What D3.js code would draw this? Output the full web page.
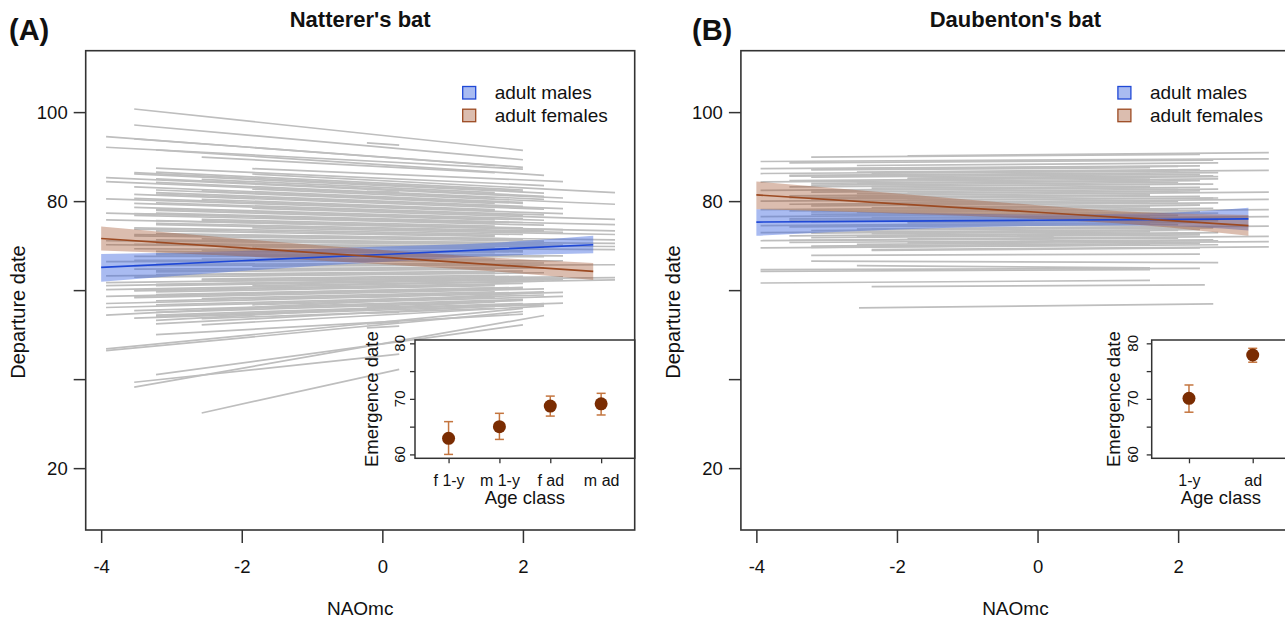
<!DOCTYPE html>
<html>
<head>
<meta charset="utf-8">
<script src="https://cdn.jsdelivr.net/npm/d3@7"></script>
<style>
  body { margin: 0; background: #fff; }
  text { font-family: "Liberation Sans", Arial, Helvetica, sans-serif; fill: #111; }
</style>
</head>
<body>
<svg id="chart" width="1285" height="621"></svg>
<script>
// ---- data ----
const naoTicks = [-4, -2, 0, 2];
const depTicks = [20, 40, 60, 80, 100];
const depLabelled = [20, 80, 100];
const emTicks = [60, 65, 70, 75, 80];
const emLabelled = [60, 70, 80];
const legendLabels = ["adult males", "adult females"];

// individual regression lines: [x start, x end, y start, y end]
const natIndiv = [
  [-3.53, 2.00, 100.7, 91.4], [-3.53, 2.00, 97.1, 89.3], [-3.93, 1.60, 94.5, 88.0],
  [-3.53, 2.00, 94.0, 87.6], [-3.93, 2.00, 92.1, 87.2], [-3.22, 2.30, 91.5, 85.8],
  [-2.57, 1.60, 89.9, 86.4], [-0.22, 0.24, 93.1, 92.6], [-1.85, 3.31, 86.1, 81.9],
  [-1.85, 2.57, 87.3, 84.4], [-3.22, 2.30, 87.4, 83.5],
  [-3.22, 2.00, 86.5, 82.5], [-3.53, 2.30, 86.1, 81.8], [-2.57, 1.60, 84.9, 81.9],
  [-3.93, 2.57, 85.3, 80.7], [-3.22, 2.30, 84.2, 80.4], [-1.85, 3.31, 82.7, 79.3],
  [-3.53, 2.00, 83.2, 79.7], [-3.22, 1.60, 82.5, 79.5], [-3.22, 2.00, 81.9, 78.8],
  [-3.53, 2.30, 81.5, 78.2], [-2.57, 1.60, 80.4, 78.1], [-3.93, 2.57, 80.5, 77.2],
  [-3.22, 2.30, 79.6, 76.9], [-1.85, 3.31, 78.4, 75.9], [-3.53, 2.00, 78.6, 76.1],
  [-3.22, 1.60, 77.9, 75.8], [-3.22, 2.00, 77.3, 75.2], [-3.53, 2.30, 76.8, 74.6],
  [-2.57, 1.60, 75.9, 74.4], [-3.93, 2.57, 75.8, 73.6], [-3.22, 2.30, 75.0, 73.3],
  [-1.85, 3.31, 74.0, 72.5], [-3.53, 2.00, 74.0, 72.5], [-3.22, 1.60, 73.3, 72.1],
  [-3.22, 2.00, 72.7, 71.5], [-3.53, 2.30, 72.2, 71.0], [-2.57, 1.60, 71.5, 70.7],
  [-3.93, 2.57, 71.1, 70.1], [-3.22, 2.30, 70.5, 69.7], [-1.85, 3.31, 69.7, 69.1],
  [-3.53, 2.00, 69.3, 68.8], [-3.22, 1.60, 68.7, 68.4], [-3.22, 2.00, 68.2, 67.9],
  [-3.53, 2.30, 67.6, 67.5], [-2.57, 1.60, 67.0, 67.0], [-3.93, 2.57, 66.4, 66.6],
  [-3.22, 2.30, 65.8, 66.1], [-1.85, 3.31, 65.4, 65.7], [-3.53, 2.00, 64.7, 65.2],
  [-3.22, 1.60, 64.1, 64.7], [-3.22, 2.00, 63.5, 64.3], [-3.53, 2.30, 62.9, 63.9],
  [-2.57, 1.60, 62.5, 63.3], [-3.93, 2.57, 61.7, 63.0], [-3.22, 2.30, 61.3, 62.5],
  [-1.85, 3.31, 61.0, 62.3], [-3.53, 2.00, 60.0, 61.5], [-3.22, 1.60, 59.6, 61.0],
  [-3.22, 2.00, 59.0, 60.6], [-3.53, 2.30, 58.3, 60.3], [-2.57, 1.60, 58.1, 59.6],
  [-3.93, 2.57, 57.0, 59.5], [-3.22, 2.30, 56.7, 58.9], [-1.85, 2.57, 56.7, 58.6],
  [-3.53, 2.00, 55.4, 57.9], [-3.22, 1.60, 55.0, 57.3], [-3.22, 2.00, 54.4, 57.0],
  [-3.53, 2.30, 53.7, 56.7], [-2.57, 1.60, 53.6, 55.9],
  [-3.53, 2.00, 86.4, 82.2], [-3.22, 2.30, 85.0, 81.1], [-3.93, 1.60, 84.4, 80.7],
  [-2.57, 2.00, 82.3, 79.5], [-3.22, 2.57, 81.6, 78.3], [-3.53, 1.60, 80.6, 77.9],
  [-3.53, 2.00, 79.5, 76.8], [-3.22, 2.30, 78.2, 75.7], [-3.93, 1.60, 77.3, 75.1],
  [-2.57, 2.00, 75.6, 74.0], [-3.22, 2.57, 74.7, 73.0], [-3.53, 1.60, 73.7, 72.3],
  [-3.53, 2.00, 72.5, 71.3], [-3.22, 2.30, 71.3, 70.4], [-3.93, 1.60, 70.2, 69.5],
  [-2.57, 2.00, 69.0, 68.6], [-3.22, 2.57, 67.9, 67.7], [-3.53, 1.60, 66.7, 66.8],
  [-3.53, 2.00, 65.5, 65.9], [-3.22, 2.30, 64.4, 65.0], [-3.93, 1.60, 63.2, 64.0],
  [-2.57, 2.00, 62.3, 63.1], [-3.22, 2.57, 61.0, 62.4], [-3.53, 1.60, 59.8, 61.2],
  [-3.53, 2.00, 58.6, 60.4], [-3.22, 2.30, 57.6, 59.6], [-3.93, 1.60, 56.1, 58.4],
  [-2.57, 2.00, 55.6, 57.7], [-3.22, 2.57, 54.1, 57.1],
  [-3.93, 2.00, 61.0, 62.6], [-3.93, 2.30, 60.1, 62.0], [-3.93, 1.60, 58.6, 60.5],
  [-3.22, 3.31, 72.6, 71.3], [-2.57, 3.31, 71.1, 70.5], [-3.53, 3.31, 70.3, 69.8],
  [-3.22, 3.31, 75.6, 73.3], [-3.53, 3.31, 77.2, 74.7], [-2.57, 3.31, 62.0, 62.8],
  [-0.22, 0.24, 82.2, 82.0], [-0.22, 0.24, 80.8, 80.6], [-0.22, 0.24, 58.4, 58.6],
  [-0.22, 0.24, 56.2, 56.4], [-0.22, 0.24, 54.8, 55.0], [-0.22, 0.24, 52.4, 52.8],
  [-0.22, 0.24, 51.5, 51.9],
  [-3.93, 2.30, 54.4, 59.5], [-3.22, 2.00, 53.2, 57.8], [-3.22, 2.30, 52.4, 57.0],
  [-2.57, 2.30, 52.2, 56.4], [-3.22, 2.00, 50.0, 54.6], [-3.93, 2.00, 46.8, 55.9],
  [-3.93, 2.00, 46.4, 55.2], [-3.53, 2.30, 38.2, 54.3], [-3.22, 2.00, 41.0, 52.2],
  [-3.53, 0.24, 39.3, 45.6], [-2.57, 0.24, 32.4, 42.2]
];

const daubIndiv = [
  [-1.85, 3.29, 90.2, 90.9], [-3.22, 2.31, 89.9, 90.5], [-3.94, 3.29, 88.9, 89.5],
  [-3.53, 2.50, 88.6, 89.2], [-2.57, 2.57, 88.0, 88.6], [-3.94, 2.31, 87.3, 87.9],
  [-3.22, 1.60, 87.0, 87.5], [-2.36, 3.29, 86.3, 86.9], [-3.94, 2.00, 86.2, 86.8],
  [-3.53, 2.57, 85.8, 86.4], [-3.22, 2.31, 85.4, 86.0], [-1.85, 2.50, 85.2, 85.7],
  [-3.53, 1.60, 84.6, 85.2], [-3.94, 2.57, 84.3, 85.0], [-2.57, 2.31, 84.0, 84.6],
  [-3.22, 2.00, 83.6, 84.2], [-3.53, 2.50, 83.2, 83.8], [-2.36, 1.60, 82.9, 83.3],
  [-3.94, 2.31, 82.4, 83.1], [-3.22, 2.57, 82.0, 82.7], [-1.85, 2.00, 81.8, 82.2],
  [-3.53, 3.29, 81.2, 82.0], [-2.57, 1.60, 80.9, 81.3], [-3.22, 2.31, 80.5, 81.1],
  [-3.94, 2.50, 80.0, 80.7], [-2.36, 3.29, 79.7, 80.4], [-3.53, 2.00, 79.3, 79.9],
  [-3.22, 2.57, 78.9, 79.6], [-1.85, 2.31, 78.6, 79.1], [-3.94, 1.60, 78.1, 78.7],
  [-3.53, 2.50, 77.8, 78.4], [-2.57, 3.29, 77.4, 78.1], [-3.22, 2.31, 77.0, 77.6],
  [-3.94, 2.57, 76.5, 77.3], [-2.36, 2.00, 76.3, 76.8], [-3.53, 3.29, 75.7, 76.5],
  [-3.22, 1.60, 75.4, 75.9], [-1.85, 2.57, 75.1, 75.6], [-3.94, 2.31, 74.5, 75.2],
  [-3.53, 2.00, 74.2, 74.7], [-2.57, 3.29, 73.7, 74.4], [-3.22, 2.50, 73.4, 74.0],
  [-3.94, 2.31, 72.9, 73.6], [-2.36, 1.60, 72.7, 73.1], [-3.53, 2.57, 72.2, 72.9],
  [-3.22, 2.31, 71.8, 72.4], [-1.85, 3.29, 71.5, 72.1], [-3.94, 2.00, 71.1, 71.7],
  [-3.53, 2.50, 70.7, 71.3], [-2.57, 3.29, 70.3, 70.9], [-3.22, 2.31, 69.9, 70.5],
  [-3.94, 2.57, 69.5, 70.2], [-2.36, 3.29, 69.1, 69.7],
  [-3.22, 2.00, 87.2, 87.8], [-2.57, 2.31, 86.5, 87.1], [-3.53, 1.60, 85.6, 86.2],
  [-1.85, 2.57, 85.0, 85.5], [-3.22, 1.60, 84.0, 84.6], [-2.36, 2.31, 83.3, 83.9],
  [-3.22, 2.00, 82.4, 83.0], [-2.57, 2.31, 81.7, 82.3], [-3.53, 1.60, 80.8, 81.4],
  [-1.85, 2.57, 80.2, 80.7], [-3.22, 1.60, 79.2, 79.8], [-2.36, 2.31, 78.5, 79.1],
  [-3.22, 2.00, 77.6, 78.2], [-2.57, 2.31, 76.9, 77.5], [-3.53, 1.60, 76.0, 76.6],
  [-1.85, 2.57, 75.4, 75.9], [-3.22, 1.60, 74.4, 75.0], [-2.36, 2.31, 73.7, 74.3],
  [-3.22, 2.00, 72.8, 73.4], [-2.57, 2.31, 72.1, 72.7], [-3.53, 1.60, 71.2, 71.8],
  [-1.85, 2.57, 70.6, 71.1], [-3.22, 1.60, 69.6, 70.2], [-2.36, 2.31, 68.9, 69.5],
  [-0.25, 0.23, 72.0, 72.1], [-0.25, 0.23, 71.4, 71.5], [-0.25, 0.23, 70.8, 70.9],
  [-3.22, 2.31, 67.8, 68.1], [-3.22, 2.57, 66.5, 66.2], [-2.57, 1.60, 65.5, 65.0],
  [-3.94, 2.31, 64.6, 64.9], [-3.94, 1.60, 64.2, 64.6], [-3.94, 1.60, 61.6, 62.2],
  [-2.36, 2.38, 60.8, 61.2], [-2.54, 2.50, 56.0, 56.9]
];

// fitted population lines and confidence bands
const bandX = [-4, -2, 0, 1.5, 3];
const natMaleFit = [65.1, 66.6, 68.0, 69.1, 70.2];
const natMaleLo = [61.9, 64.3, 66.3, 67.6, 68.3];
const natMaleHi = [68.1, 68.8, 69.8, 70.6, 72.2];
const natFemFit = [71.6, 69.5, 67.4, 65.8, 64.2];
const natFemLo = [68.9, 67.6, 65.8, 64.3, 62.3];
const natFemHi = [74.3, 71.5, 69.0, 67.4, 66.1];
const daubMaleFit = [75.3, 75.5, 75.7, 75.85, 76.0];
const daubMaleLo = [72.2, 73.6, 74.4, 74.5, 73.4];
const daubMaleHi = [78.2, 77.4, 77.0, 77.2, 78.5];
const daubFemFit = [81.4, 79.4, 77.5, 76.0, 74.5];
const daubFemLo = [78.2, 77.2, 76.0, 74.6, 72.2];
const daubFemHi = [84.4, 81.7, 79.1, 77.5, 76.9];

// inset: emergence date by age class
const natClasses = ["f 1-y", "m 1-y", "f ad", "m ad"];
const natEmerg = [62.9, 65.0, 68.7, 69.1];
const natEmergLo = [60.0, 62.7, 66.9, 67.1];
const natEmergHi = [65.9, 67.4, 70.5, 71.0];
const daubClasses = ["1-y", "ad"];
const daubEmerg = [70.1, 77.9];
const daubEmergLo = [67.6, 76.6];
const daubEmergHi = [72.5, 79.1];

// ---- drawing ----
const svg = d3.select("#chart");
const maleCol = "#1f48d6", femCol = "#9c4a22";
const axisCol = "#333";

function panel(p) {
  const g = svg.append("g");
  const x = d3.scaleLinear().domain([-4.22, 3.59]).range([p.left, p.left + 549]);
  const y = d3.scaleLinear().domain([6.1, 113.8]).range([530, 50.7]);

  g.append("g").selectAll("line").data(p.indiv).join("line")
    .attr("x1", d => x(d[0])).attr("x2", d => x(d[1]))
    .attr("y1", d => y(d[2])).attr("y2", d => y(d[3]))
    .attr("stroke", "#bebebe").attr("stroke-width", 1.7);

  const area = d3.area().x(d => x(d.x)).y0(d => y(d.lo)).y1(d => y(d.hi)).curve(d3.curveMonotoneX);
  const fit = d3.line().x(d => x(d.x)).y(d => y(d.fit));
  const series = [
    {col: maleCol, fill: "rgba(65,105,225,0.45)", pts: bandX.map((v, i) => ({x: v, lo: p.maleLo[i], hi: p.maleHi[i], fit: p.maleFit[i]}))},
    {col: femCol, fill: "rgba(160,82,45,0.38)", pts: bandX.map((v, i) => ({x: v, lo: p.femLo[i], hi: p.femHi[i], fit: p.femFit[i]}))}
  ];
  series.forEach(s => g.append("path").attr("d", area(s.pts)).attr("fill", s.fill));
  series.forEach(s => g.append("path").attr("d", fit(s.pts)).attr("fill", "none")
    .attr("stroke", s.col).attr("stroke-width", 1.7));

  // box
  g.append("rect").attr("x", p.left).attr("y", 50.7).attr("width", 549).attr("height", 479.3)
    .attr("fill", "none").attr("stroke", axisCol).attr("stroke-width", 1.6);

  // axes
  const xa = g.append("g").attr("transform", "translate(0,530)")
    .call(d3.axisBottom(x).tickValues(naoTicks).tickSize(13).tickPadding(17).tickFormat(d3.format("d")));
  const ya = g.append("g").attr("transform", `translate(${p.left},0)`)
    .call(d3.axisLeft(y).tickValues(depTicks).tickSize(12).tickPadding(6)
      .tickFormat(d => depLabelled.includes(d) ? d : ""));
  [xa, ya].forEach(a => {
    a.select(".domain").remove();
    a.selectAll(".tick line").attr("stroke", axisCol).attr("stroke-width", 1.5);
    a.selectAll("text").style("font-size", "18.5px").attr("fill", "#111");
  });
  xa.selectAll(".tick text").text(d => d < 0 ? "-" + Math.abs(d) : d);

  g.append("text").attr("x", p.left + 274.5).attr("y", 615).attr("text-anchor", "middle")
    .style("font-size", "19px").text("NAOmc");
  g.append("text").attr("transform", `translate(${p.left - 61},312) rotate(-90)`)
    .attr("text-anchor", "middle").style("font-size", "20px").text("Departure date");
  g.append("text").attr("x", p.left + 274.5).attr("y", 27).attr("text-anchor", "middle")
    .style("font-size", "22px").style("font-weight", "bold").text(p.title);
  g.append("text").attr("x", p.tagX).attr("y", 40)
    .style("font-size", "29px").style("font-weight", "bold").text(p.tag);

  // legend
  const lg = g.append("g").attr("transform", `translate(${p.left + 377},0)`);
  const legSw = [["rgba(65,105,225,0.45)", maleCol], ["rgba(160,82,45,0.38)", femCol]];
  legendLabels.forEach((lab, i) => {
    const by = 99 + i * 22.7;
    lg.append("rect").attr("x", 0).attr("y", by - 12.5).attr("width", 13).attr("height", 12.5)
      .attr("fill", legSw[i][0]).attr("stroke", legSw[i][1]).attr("stroke-width", 1.3);
    lg.append("text").attr("x", 32).attr("y", by).style("font-size", "19px").text(lab);
  });

  // inset
  const ins = p.inset;
  const ix = d3.scaleLinear().domain(ins.dom).range([ins.left, ins.right]);
  const iy = d3.scaleLinear().domain([59.3, 80.6]).range([458.3, 340]);
  const ig = g.append("g");
  ig.append("rect").attr("x", ins.left).attr("y", 340).attr("width", ins.right - ins.left)
    .attr("height", 118.3).attr("fill", "#fff").attr("stroke", axisCol).attr("stroke-width", 1.5);
  const idx = ins.classes.map((c, i) => i + 1);
  const ixa = ig.append("g").attr("transform", "translate(0,458.3)")
    .call(d3.axisBottom(ix).tickValues(idx).tickSize(5).tickPadding(11)
      .tickFormat(d => ins.classes[d - 1]));
  const iya = ig.append("g").attr("transform", `translate(${ins.left},0)`)
    .call(d3.axisLeft(iy).tickValues(emTicks).tickSize(5).tickFormat(""));
  [ixa, iya].forEach(a => {
    a.select(".domain").remove();
    a.selectAll(".tick line").attr("stroke", axisCol).attr("stroke-width", 1.3);
    a.selectAll("text").style("font-size", "16px").attr("fill", "#111");
  });
  ig.selectAll(".ylab").data(emLabelled).join("text")
    .attr("transform", d => `translate(${ins.left - ins.tickOff},${iy(d)}) rotate(-90)`)
    .attr("text-anchor", "middle").style("font-size", "15px").text(d => d);
  ig.append("text").attr("transform", `translate(${ins.left - ins.titleOff},${(340 + 458.3) / 2}) rotate(-90)`)
    .attr("text-anchor", "middle").style("font-size", "18.5px").text("Emergence date");
  ig.append("text").attr("x", (ins.left + ins.right) / 2).attr("y", 503.5)
    .attr("text-anchor", "middle").style("font-size", "18.5px").text("Age class");

  const errCol = "#c4753f";
  const pts = ins.classes.map((c, i) => ({i: i + 1, v: ins.val[i], lo: ins.lo[i], hi: ins.hi[i]}));
  ig.selectAll(".eb").data(pts).join("line")
    .attr("x1", d => ix(d.i)).attr("x2", d => ix(d.i)).attr("y1", d => iy(d.lo)).attr("y2", d => iy(d.hi))
    .attr("stroke", errCol).attr("stroke-width", 1.5);
  ["lo", "hi"].forEach(k => ig.selectAll(".cap" + k).data(pts).join("line")
    .attr("x1", d => ix(d.i) - 4.5).attr("x2", d => ix(d.i) + 4.5)
    .attr("y1", d => iy(d[k])).attr("y2", d => iy(d[k]))
    .attr("stroke", errCol).attr("stroke-width", 1.5));
  ig.selectAll("circle").data(pts).join("circle")
    .attr("cx", d => ix(d.i)).attr("cy", d => iy(d.v)).attr("r", 6.5).attr("fill", "#7a2c02");
}

panel({
  left: 85.7, title: "Natterer's bat", tag: "(A)", tagX: 9, indiv: natIndiv,
  maleFit: natMaleFit, maleLo: natMaleLo, maleHi: natMaleHi,
  femFit: natFemFit, femLo: natFemLo, femHi: natFemHi,
  inset: {left: 415, right: 634.7, dom: [0.34, 4.66], classes: natClasses,
    val: natEmerg, lo: natEmergLo, hi: natEmergHi, tickOff: 10.5, titleOff: 37.5}
});
panel({
  left: 740.9, title: "Daubenton's bat", tag: "(B)", tagX: 692, indiv: daubIndiv,
  maleFit: daubMaleFit, maleLo: daubMaleLo, maleHi: daubMaleHi,
  femFit: daubFemFit, femLo: daubFemLo, femHi: daubFemHi,
  inset: {left: 1151.7, right: 1290, dom: [0.415, 2.585], classes: daubClasses,
    val: daubEmerg, lo: daubEmergLo, hi: daubEmergHi, tickOff: 13.5, titleOff: 32}
});
</script>
</body>
</html>
